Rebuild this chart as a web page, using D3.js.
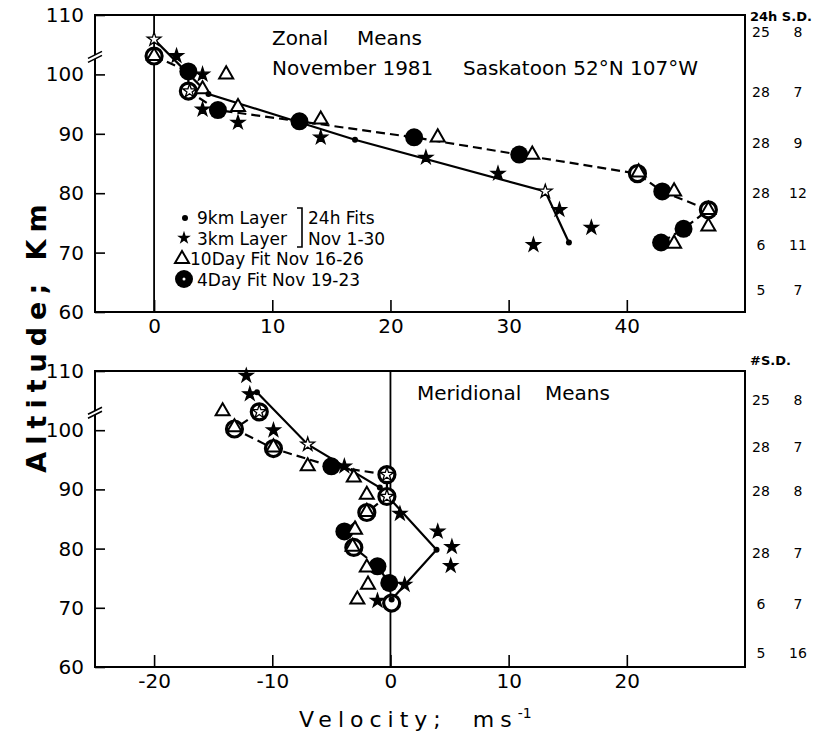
<!DOCTYPE html>
<html>
<head>
<meta charset="utf-8">
<script src="https://cdn.jsdelivr.net/npm/d3@7"></script>
<style>
body { margin: 0; background: #fff; }
text { font-family: "DejaVu Sans", sans-serif; fill: #000; }
</style>
</head>
<body>
<div id="chart-area"></div>
<script>
// ---- Zonal means (top panel), altitude in km, wind in m/s
var zonal9kmAlt = [105.9, 96.7, 89.0, 80.3, 71.7];
var zonal9kmU   = [0, 4.6, 17.0, 33.1, 35.1];
var zonal3kmAlt = [105.9, 103.1, 100.0, 97.2, 94.1, 91.9, 89.4, 86.0, 83.3, 80.3, 77.2, 74.2, 71.3];
var zonal3kmU   = [0, 1.9, 4.1, 3.0, 4.1, 7.1, 14.1, 23.0, 29.1, 33.1, 34.3, 37.0, 32.1];
var zonal10dAlt = [103.1, 100.0, 97.5, 94.5, 92.4, 89.4, 86.5, 83.5, 80.3, 77.2, 74.4, 71.5];
var zonal10dU   = [0, 6.1, 4.1, 7.1, 14.1, 24.0, 32.0, 41.0, 44.0, 46.9, 46.9, 44.0];
var zonal4dAlt  = [103.1, 100.5, 97.2, 94.0, 92.1, 89.4, 86.5, 83.3, 80.3, 77.2, 74.0, 71.7];
var zonal4dU    = [0, 2.9, 2.9, 5.4, 12.3, 22.0, 30.9, 40.9, 43.0, 46.9, 44.8, 42.9];

// ---- Meridional means (bottom panel)
var merid9kmAlt = [106.4, 97.6, 90.3, 79.8, 71.4];
var merid9kmV   = [-11.3, -7.0, -0.9, 3.9, 0.1];
var merid3kmAlt = [109.2, 106.1, 103.1, 100.0, 97.6, 93.9, 92.5, 88.8, 85.9, 82.9, 80.3, 77.1, 73.9, 71.2];
var merid3kmV   = [-12.2, -11.9, -11.1, -9.9, -7.0, -3.9, -0.3, -0.3, 0.8, 4.0, 5.2, 5.1, 1.2, -1.1];
var merid10dAlt = [103.2, 100.5, 97.1, 93.9, 92.0, 89.1, 86.2, 83.2, 80.3, 76.8, 73.9, 71.4];
var merid10dV   = [-14.2, -13.2, -9.9, -7.0, -3.1, -2.0, -2.0, -3.0, -3.2, -2.0, -1.9, -2.8];
var merid4dAlt  = [103.1, 100.2, 96.9, 93.9, 92.5, 88.8, 86.1, 82.9, 80.2, 77.0, 74.2, 70.8];
var merid4dV    = [-11.1, -13.2, -9.9, -5.0, -0.3, -0.3, -2.0, -3.9, -3.1, -1.1, -0.1, 0.1];

// ---- axes
var altTicks = [60, 70, 80, 90, 100, 110];
var zonalTicks = [0, 10, 20, 30, 40];
var meridTicks = [-20, -10, 0, 10, 20];

// ---- right hand columns (number of 24h fits, standard deviation)
var zonalRowAlt = [107.1, 97.0, 88.5, 80.1, 71.3, 63.7];
var zonalCount  = ["25", "28", "28", "28", "6", "5"];
var zonalSD     = ["8", "7", "9", "12", "11", "7"];
var meridRowAlt = [105.1, 97.1, 89.7, 79.3, 70.7, 62.4];
var meridCount  = ["25", "28", "28", "28", "6", "5"];
var meridSD     = ["8", "7", "8", "7", "7", "16"];

var w = 817, h = 734;
var svg = d3.select("#chart-area").append("svg")
    .attr("width", w)
    .attr("height", h);

var star = d3.symbol().type(d3.symbolStar).size(58);
var tri = d3.symbol().type(d3.symbolTriangle).size(85);

function pts(xs, alts) {
    return xs.map((v, i) => { return {v: v, a: alts[i]}; });
}

function drawPanel(p) {
    var x = d3.scaleLinear().domain(p.xDomain).range([95, 745]);
    var y = d3.scaleLinear().domain([60, 110]).range([p.bottom, p.top]);
    var g = svg.append("g");

    // axes
    var xAxis = d3.axisBottom(x).tickValues(p.xTicks).tickSize(-12).tickPadding(7)
        .tickFormat((d) => { return String(d); });
    g.append("g")
        .attr("transform", "translate(0," + p.bottom + ")")
        .call(xAxis)
        .attr("font-size", 20).attr("font-family", "DejaVu Sans, sans-serif")
        .call((a) => { a.select(".domain").remove(); })
        .selectAll("line").attr("stroke-width", 1.6);

    var yAxis = d3.axisLeft(y).tickValues(altTicks).tickSize(-10).tickPadding(11);
    g.append("g")
        .attr("transform", "translate(95,0)")
        .call(yAxis)
        .attr("font-size", 20).attr("font-family", "DejaVu Sans, sans-serif")
        .call((a) => { a.select(".domain").remove(); })
        .selectAll("line").attr("stroke-width", 1.6);

    // frame
    g.append("rect")
        .attr("x", 95).attr("y", p.top)
        .attr("width", 650).attr("height", p.bottom - p.top)
        .attr("fill", "none").attr("stroke", "#000").attr("stroke-width", 2);

    // axis break
    var yb = y(102.7);
    g.append("path").attr("d", "M88," + (yb + 4) + "L102," + (yb - 3) + "L102," + (yb - 7) + "L88," + yb + "Z")
        .attr("fill", "#fff");
    g.append("path").attr("d", "M88," + (yb + 4) + "L102," + (yb - 3) + "M88," + yb + "L102," + (yb - 7))
        .attr("stroke", "#000").attr("stroke-width", 1.6);

    // zero line
    g.append("line")
        .attr("x1", x(0)).attr("x2", x(0))
        .attr("y1", p.top).attr("y2", p.bottom)
        .attr("stroke", "#000").attr("stroke-width", 1.8);

    var d9 = pts(p.v9, p.a9), d3k = pts(p.v3, p.a3), d10 = pts(p.v10, p.a10), d4 = pts(p.v4, p.a4);
    var line = d3.line().x((d) => { return x(d.v); }).y((d) => { return y(d.a); });

    g.append("path").datum(d9).attr("d", line)
        .attr("fill", "none").attr("stroke", "#000").attr("stroke-width", 2.2);
    g.append("path").datum(d4).attr("d", line)
        .attr("fill", "none").attr("stroke", "#000").attr("stroke-width", 2.2)
        .attr("stroke-dasharray", "9,5");

    function near(d, list, tol) {
        return list.some((e) => {
            return Math.hypot(x(d.v) - x(e.v), y(d.a) - y(e.a)) < tol;
        });
    }

    // 4 day fit circles: open ring where another symbol sits on them
    var others = d10.concat(d3k, d9);
    g.selectAll(".c4").data(d4).enter().append("circle")
        .attr("cx", (d) => { return x(d.v); })
        .attr("cy", (d) => { return y(d.a); })
        .attr("r", (d) => { return near(d, others, 6) ? 8 : 9; })
        .attr("fill", (d) => { return near(d, others, 6) ? "#fff" : "#000"; })
        .attr("stroke", "#000")
        .attr("stroke-width", (d) => { return near(d, others, 6) ? 3.2 : 0; });

    g.selectAll(".t10").data(d10).enter().append("path")
        .attr("d", tri)
        .attr("transform", (d) => { return "translate(" + x(d.v) + "," + y(d.a) + ")"; })
        .attr("fill", "#fff").attr("stroke", "#000").attr("stroke-width", 2);

    g.selectAll(".d9").data(d9).enter().append("circle")
        .attr("cx", (d) => { return x(d.v); })
        .attr("cy", (d) => { return y(d.a); })
        .attr("r", 3).attr("fill", "#000");

    g.selectAll(".s3").data(d3k).enter().append("path")
        .attr("d", star)
        .attr("transform", (d) => { return "translate(" + x(d.v) + "," + y(d.a) + ")"; })
        .attr("fill", (d) => { return near(d, d4.concat(d9), 6) ? "#fff" : "#000"; })
        .attr("stroke", "#000").attr("stroke-width", 1.3);

    // right columns
    g.append("text").attr("x", 750).attr("y", p.headerY)
        .attr("font-size", 13).attr("font-weight", "bold").text(p.header);
    p.rowAlt.forEach((a, i) => {
        g.append("text").attr("x", 761).attr("y", y(a) + 5)
            .attr("text-anchor", "middle").attr("font-size", 14).text(p.count[i]);
        g.append("text").attr("x", 798).attr("y", y(a) + 5)
            .attr("text-anchor", "middle").attr("font-size", 14).text(p.sd[i]);
    });
    return g;
}

var topPanel = drawPanel({
    top: 15, bottom: 312, xDomain: [-5, 50], xTicks: zonalTicks,
    v9: zonal9kmU, a9: zonal9kmAlt, v3: zonal3kmU, a3: zonal3kmAlt,
    v10: zonal10dU, a10: zonal10dAlt, v4: zonal4dU, a4: zonal4dAlt,
    header: "24h S.D.", headerY: 21, rowAlt: zonalRowAlt, count: zonalCount, sd: zonalSD
});

var bottomPanel = drawPanel({
    top: 371, bottom: 667, xDomain: [-25, 30], xTicks: meridTicks,
    v9: merid9kmV, a9: merid9kmAlt, v3: merid3kmV, a3: merid3kmAlt,
    v10: merid10dV, a10: merid10dAlt, v4: merid4dV, a4: merid4dAlt,
    header: "#S.D.", headerY: 365, rowAlt: meridRowAlt, count: meridCount, sd: meridSD
});

// titles
topPanel.append("text").attr("x", 272).attr("y", 45).attr("font-size", 20).text("Zonal");
topPanel.append("text").attr("x", 357).attr("y", 45).attr("font-size", 20).text("Means");
topPanel.append("text").attr("x", 272).attr("y", 75).attr("font-size", 20).text("November 1981");
topPanel.append("text").attr("x", 463).attr("y", 75).attr("font-size", 20).text("Saskatoon 52°N 107°W");
bottomPanel.append("text").attr("x", 417).attr("y", 400).attr("font-size", 20).text("Meridional");
bottomPanel.append("text").attr("x", 545).attr("y", 400).attr("font-size", 20).text("Means");

// legend
var lg = topPanel.append("g").attr("font-size", 17);
lg.append("circle").attr("cx", 185).attr("cy", 218).attr("r", 3).attr("fill", "#000");
lg.append("text").attr("x", 197).attr("y", 224).text("9km Layer");
lg.append("path").attr("d", star).attr("transform", "translate(184,238)").attr("fill", "#000");
lg.append("text").attr("x", 197).attr("y", 245).text("3km Layer");
lg.append("path").attr("d", tri).attr("transform", "translate(182,259)")
    .attr("fill", "#fff").attr("stroke", "#000").attr("stroke-width", 2);
lg.append("text").attr("x", 190).attr("y", 265).text("10Day Fit Nov 16-26");
lg.append("circle").attr("cx", 184).attr("cy", 279).attr("r", 9).attr("fill", "#000");
lg.append("circle").attr("cx", 184).attr("cy", 279).attr("r", 1.5).attr("fill", "#fff");
lg.append("text").attr("x", 197).attr("y", 286).text("4Day Fit Nov 19-23");
lg.append("path").attr("d", "M297,208H302V247H297")
    .attr("fill", "none").attr("stroke", "#000").attr("stroke-width", 1.6);
lg.append("text").attr("x", 308).attr("y", 224).text("24h Fits");
lg.append("text").attr("x", 308).attr("y", 245).text("Nov 1-30");

// axis titles
svg.append("text")
    .attr("transform", "translate(46,335) rotate(-90)")
    .attr("text-anchor", "middle")
    .attr("font-size", 27).attr("font-weight", "bold")
    .attr("letter-spacing", 7)
    .text("Altitude;  Km");

var xl = svg.append("text").attr("x", 299).attr("y", 727)
    .attr("font-size", 22).attr("letter-spacing", 6);
xl.append("tspan").text("Velocity;");
xl.append("tspan").attr("dx", 26).text("ms");
xl.append("tspan").attr("dy", -9).attr("font-size", 14).attr("letter-spacing", 0).text("-1");
</script>
</body>
</html>
